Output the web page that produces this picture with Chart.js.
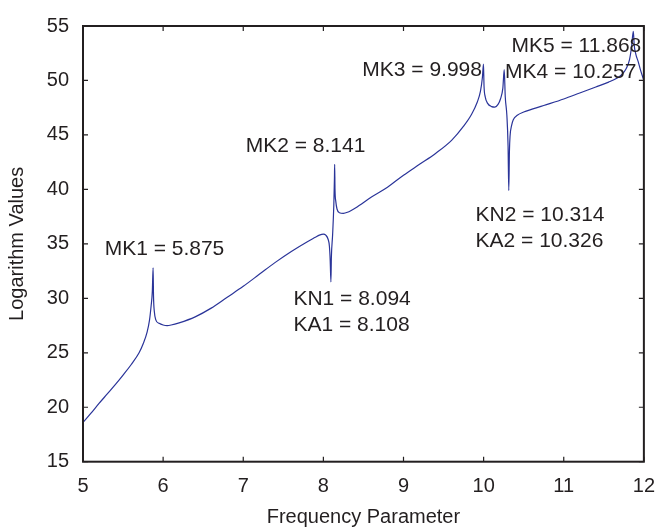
<!DOCTYPE html>
<html lang="en">
<head>
  <meta charset="UTF-8">
  <title>Logarithm Values vs Frequency Parameter</title>
  <script src="https://cdn.jsdelivr.net/npm/chart.js"></script>
  <style>
    body {
      margin: 0;
      background: #ffffff;
    }

    .wrap {
      width: 668px;
      height: 532px;
      position: relative;
    }
  </style>
</head>
<body>

  <div class="wrap">
    <canvas id="freqChart"></canvas>
  </div>

  <script>
    // frequency parameter (x) and logarithm values (y) of the response curve
    const freq = [
      5.00, 5.10, 5.20, 5.30, 5.40, 5.50, 5.60, 5.70, 5.75, 5.80, 5.83, 5.85, 5.865, 5.875,
      5.88, 5.89, 5.91, 5.95, 6.00, 6.05, 6.10, 6.20, 6.40, 6.60, 6.80, 7.00, 7.20, 7.40,
      7.60, 7.80, 7.90, 7.95, 8.00, 8.03, 8.06, 8.075, 8.085, 8.094,
      8.10, 8.115, 8.13, 8.138, 8.141, 8.145, 8.155, 8.17, 8.20, 8.25, 8.30, 8.40, 8.60,
      8.80, 9.00, 9.20, 9.40, 9.60, 9.75, 9.85, 9.92, 9.96, 9.985, 9.998,
      10.005, 10.02, 10.05, 10.10, 10.14, 10.18, 10.21, 10.24, 10.257,
      10.27, 10.29, 10.305, 10.314, 10.322, 10.33, 10.35, 10.37, 10.42, 10.50, 10.75,
      11.00, 11.20, 11.40, 11.56, 11.65, 11.72, 11.78, 11.82, 11.845, 11.868,
      11.88, 11.90, 11.93, 11.96, 12.00
    ];
    const logValues = [
      18.6, 19.45, 20.35, 21.2, 22.05, 22.95, 23.9, 25.0, 25.8, 26.9, 28.0, 29.3, 30.6, 32.8,
      30.2, 28.8, 28.0, 27.7, 27.55, 27.5, 27.55, 27.75, 28.3, 29.1, 30.1, 31.1, 32.2, 33.3,
      34.3, 35.2, 35.6, 35.8, 35.9, 35.8, 35.4, 34.8, 33.5, 31.5,
      33.8, 35.8, 38.5, 41.0, 42.3, 40.0, 38.9, 38.2, 37.85, 37.8, 37.9, 38.3, 39.3,
      40.2, 41.3, 42.3, 43.3, 44.5, 45.8, 46.9, 48.0, 49.0, 50.3, 51.5,
      49.5, 48.5, 47.9, 47.6, 47.55, 47.8, 48.3, 49.3, 51.0,
      48.5, 46.8, 44.0, 39.9, 43.5, 44.9, 45.9, 46.4, 46.8, 47.1, 47.7,
      48.3, 48.85, 49.4, 49.85, 50.15, 50.5, 51.1, 51.9, 53.0, 54.5,
      53.2, 52.4, 51.7, 50.9, 50.0
    ];

    const xTicks = [5, 6, 7, 8, 9, 10, 11, 12];
    const yTicks = [15, 20, 25, 30, 35, 40, 45, 50, 55];

    // marked resonance / anti-resonance values, placed in data units
    const markText = [
      'MK1 = 5.875', 'MK2 = 8.141', 'KN1 = 8.094', 'KA1 = 8.108',
      'MK3 = 9.998', 'KN2 = 10.314', 'KA2 = 10.326', 'MK5 = 11.868', 'MK4 = 10.257'
    ];
    const markX = [5.27, 7.031, 7.626, 7.626, 8.486, 9.899, 9.899, 10.348, 10.267];
    const markY = [34.5, 44.0, 29.9, 27.5, 50.9, 37.6, 35.2, 53.1, 50.74];

    const ink = '#231f20';
    const fontFamily = "'Liberation Sans', Arial, sans-serif";

    // box round the plot with short ticks pointing inwards on all sides
    const framePlugin = {
      id: 'frame',
      afterDatasetsDraw(chart) {
        const { ctx, chartArea: a, scales: { x, y } } = chart;
        const len = 5;
        ctx.save();
        ctx.strokeStyle = ink;
        ctx.lineWidth = 1.2;
        ctx.beginPath();
        xTicks.forEach(v => {
          const px = x.getPixelForValue(v);
          ctx.moveTo(px, a.bottom); ctx.lineTo(px, a.bottom - len);
          ctx.moveTo(px, a.top); ctx.lineTo(px, a.top + len);
        });
        yTicks.forEach(v => {
          const py = y.getPixelForValue(v);
          ctx.moveTo(a.left, py); ctx.lineTo(a.left + len, py);
          ctx.moveTo(a.right, py); ctx.lineTo(a.right - len, py);
        });
        ctx.stroke();
        ctx.lineWidth = 2;
        ctx.strokeRect(a.left, a.top, a.right - a.left, a.bottom - a.top);

        // value labels
        ctx.fillStyle = ink;
        ctx.font = '21px ' + fontFamily;
        ctx.textAlign = 'left';
        ctx.textBaseline = 'middle';
        markText.forEach((t, i) => {
          ctx.fillText(t, x.getPixelForValue(markX[i]), y.getPixelForValue(markY[i]));
        });
        ctx.restore();
      }
    };

    const ctx = document.getElementById('freqChart').getContext('2d');
    new Chart(ctx, {
      type: 'line',
      data: {
        datasets: [{
          data: freq.map((f, i) => ({ x: f, y: logValues[i] })),
          borderColor: '#2a3499',
          borderWidth: 1.2,
          pointRadius: 0,
          fill: false,
          cubicInterpolationMode: 'monotone'
        }]
      },
      options: {
        responsive: true,
        maintainAspectRatio: false,
        animation: false,
        layout: { padding: { top: 14, right: 15.3, left: 0, bottom: 0 } },
        plugins: {
          legend: { display: false },
          tooltip: { enabled: false }
        },
        scales: {
          x: {
            type: 'linear',
            min: 5,
            max: 12,
            afterBuildTicks: s => { s.ticks = xTicks.map(v => ({ value: v })); },
            afterFit: s => { s.height = 70.3; },
            grid: { display: false, drawTicks: false },
            border: { display: false },
            ticks: {
              color: ink,
              padding: 13,
              maxRotation: 0,
              font: { family: fontFamily, size: 20 }
            },
            title: {
              display: true,
              text: 'Frequency Parameter',
              color: ink,
              padding: { top: 0, bottom: 3 },
              font: { family: fontFamily, size: 20 }
            }
          },
          y: {
            min: 15,
            max: 55,
            afterBuildTicks: s => { s.ticks = yTicks.map(v => ({ value: v })); },
            afterFit: s => { s.width = 83; },
            grid: { display: false, drawTicks: false },
            border: { display: false },
            ticks: {
              color: ink,
              padding: 14,
              font: { family: fontFamily, size: 20 }
            },
            title: {
              display: true,
              text: 'Logarithm Values',
              color: ink,
              padding: { top: 5, bottom: 0 },
              font: { family: fontFamily, size: 20 }
            }
          }
        }
      },
      plugins: [framePlugin]
    });
  </script>

</body>
</html>
